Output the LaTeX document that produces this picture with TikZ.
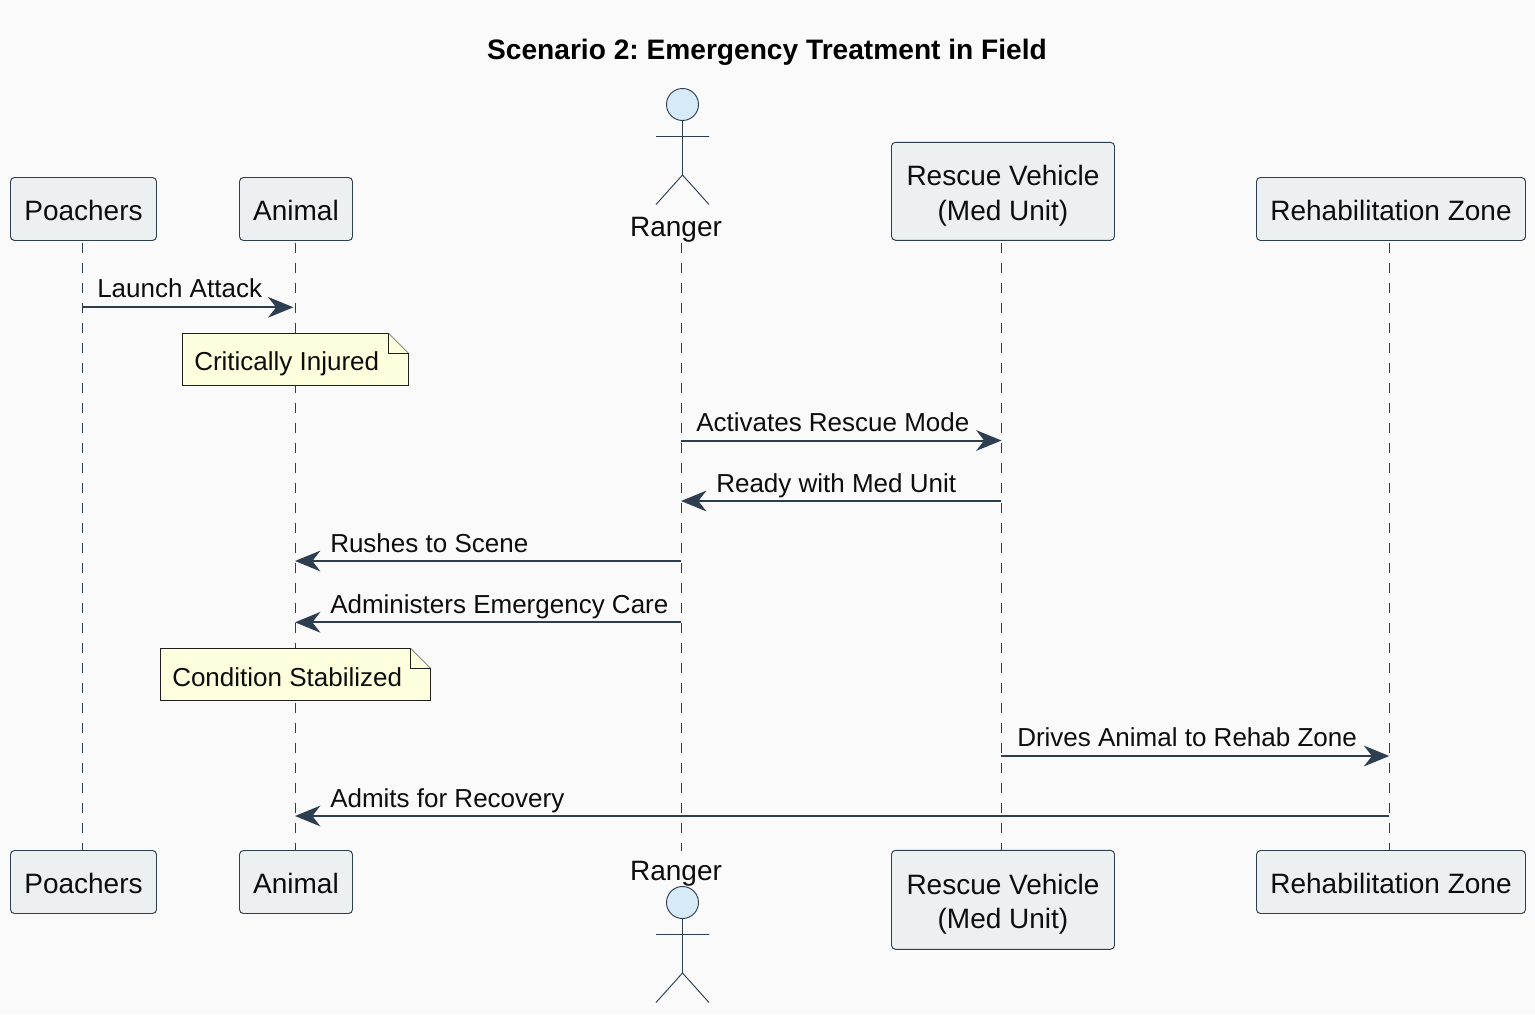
\documentclass[tikz,border=0pt]{standalone}
\usepackage{fontspec}
\setmainfont{Liberation Sans}
\usetikzlibrary{arrows.meta}
\frenchspacing
\definecolor{bgc}{HTML}{FAFAFA}
\definecolor{ink}{HTML}{2C3E50}
\definecolor{boxc}{HTML}{ECF0F1}
\definecolor{notec}{HTML}{FEFFDD}
\definecolor{headc}{HTML}{D6EAF8}
\definecolor{noteline}{HTML}{1E1E1E}
\tikzset{
  x=0.75pt,y=-0.75pt,
  part/.style={draw=ink,fill=boxc,rounded corners=3pt,line width=0.7pt,inner sep=0pt,align=center,font=\fontsize{21}{26}\selectfont,text=black!95},
  oneline/.style={text height=17.2pt,text depth=0pt},
  twoline/.style={text height=43.5pt,text depth=0pt},
  life/.style={draw=ink,line width=0.7pt,dash pattern=on 7.5pt off 7.5pt},
  msg/.style={draw=ink,line width=1.5pt,-{Stealth[length=19pt,width=15.5pt,inset=6pt]}},
  msgr/.style={msg,shorten >=1.2pt},
  lab/.style={anchor=base west,inner sep=0pt,font=\fontsize{19.5}{24}\selectfont,text=black!95},
  actor/.style={draw=ink,line width=0.7pt},
  notetxt/.style={anchor=base west,inner sep=0pt,font=\fontsize{19.5}{24}\selectfont,text=black!95},
  notebox/.style={draw=noteline,fill=notec,line width=0.6pt,line join=miter},
}
\newcommand{\partbox}[7]{\node[part,#7,minimum width=#4*0.75pt,minimum height=#5*0.75pt] (#1) at (#2,#3) {#6};}
\begin{document}
\begin{tikzpicture}
\useasboundingbox (0,0) rectangle (1535,1014);
\fill[bgc] (0,0) rectangle (1535,1014);
\node[inner sep=0pt,font=\bfseries\fontsize{21.1}{26}\selectfont,text=black,anchor=base] (title) at (767,59) {Scenario 2: Emergency Treatment in Field};

% lifeline end coordinates
\coordinate (pt) at (82,242.7);  \coordinate (pb) at (82,851);
\coordinate (at) at (295,242.7); \coordinate (ab) at (295,851);
\coordinate (rt) at (681,242.7); \coordinate (rb) at (681,851);
\coordinate (vt) at (1001,242.7);\coordinate (vb) at (1001,851);
\coordinate (zt) at (1389,242.7);\coordinate (zb) at (1389,851);
\draw[life] (pt)--(pb);
\draw[life] (at)--(ab);
\draw[life] (rt)--(rb);
\draw[life] (vt)--(vb);
\draw[life] (zt)--(zb);

% participants top
\partbox{p1}{83.5}{209}{146}{63}{Poachers}{oneline}
\partbox{a1}{296}{209}{113}{63}{Animal}{oneline}
\partbox{v1}{1003}{191.3}{223}{98}{Rescue Vehicle\\(Med Unit)}{twoline}
\partbox{z1}{1391}{209}{269}{63}{Rehabilitation Zone}{oneline}
% participants bottom
\partbox{p2}{83.5}{882}{146}{63}{Poachers}{oneline}
\partbox{a2}{296}{882}{113}{63}{Animal}{oneline}
\partbox{v2}{1003}{899.8}{223}{99}{Rescue Vehicle\\(Med Unit)}{twoline}
\partbox{z2}{1391}{882}{269}{63}{Rehabilitation Zone}{oneline}

% actors
\node[draw=ink,fill=headc,circle,line width=0.7pt,minimum size=24pt,inner sep=0pt] (h1) at (682.5,104.5) {};
\draw[actor] (h1.south)--(682.5,175) (656,136.5)--(709,136.5) (656,204.5)--(682.5,175)--(709,204.5);
\node[anchor=base,inner sep=0pt,font=\fontsize{21}{26}\selectfont,text=black!95] (r1) at (676,236) {Ranger};
\node[draw=ink,fill=headc,circle,line width=0.7pt,minimum size=24pt,inner sep=0pt] (h2) at (682.5,902.5) {};
\draw[actor] (h2.south)--(682.5,973) (656,934.5)--(709,934.5) (656,1002.5)--(682.5,973)--(709,1002.5);
\node[anchor=base,inner sep=0pt,font=\fontsize{21}{26}\selectfont,text=black!95] (r2) at (676,880) {Ranger};

% messages
\coordinate (m1a) at (82,307.3);\coordinate (m1b) at (295,307.3);
\coordinate (m2a) at (681,440.5);\coordinate (m2b) at (1001.5,440.5);
\coordinate (m3a) at (1001,501);\coordinate (m3b) at (681,501);
\coordinate (m4a) at (681,561);\coordinate (m4b) at (295,561);
\coordinate (m5a) at (681,622.3);\coordinate (m5b) at (295,622.3);
\coordinate (m6a) at (1001,756);\coordinate (m6b) at (1389.3,756);
\coordinate (m7a) at (1389,816);\coordinate (m7b) at (295,816);
\draw[msgr] (m1a)--(m1b);
\draw[msg] (m2a)--(m2b);
\draw[msg] (m3a)--(m3b);
\draw[msg] (m4a)--(m4b);
\draw[msg] (m5a)--(m5b);
\draw[msg] (m6a)--(m6b);
\draw[msg] (m7a)--(m7b);
\node[lab] (l1) at (97,297) {Launch Attack};
\node[lab] (l2) at (696,431) {Activates Rescue Mode};
\node[lab] (l3) at (716,492) {Ready with Med Unit};
\node[lab] (l4) at (330,552) {Rushes to Scene};
\node[lab] (l5) at (330,613) {Administers Emergency Care};
\node[lab] (l6) at (1017,746) {Drives Animal to Rehab Zone};
\node[lab] (l7) at (330,807) {Admits for Recovery};

% notes
\draw[notebox] (182.5,333.5)--(388.5,333.5)--(408.5,353.5)--(408.5,385.5)--(182.5,385.5)--cycle;
\draw[notebox] (388.5,333.5)--(388.5,353.5)--(408.5,353.5);
\node[notetxt] (n1) at (194,370) {Critically Injured};
\draw[notebox] (160.5,648.5)--(410.5,648.5)--(430.5,668.5)--(430.5,700.5)--(160.5,700.5)--cycle;
\draw[notebox] (410.5,648.5)--(410.5,668.5)--(430.5,668.5);
\node[notetxt] (n2) at (172,686) {Condition Stabilized};
\end{tikzpicture}
\end{document}
